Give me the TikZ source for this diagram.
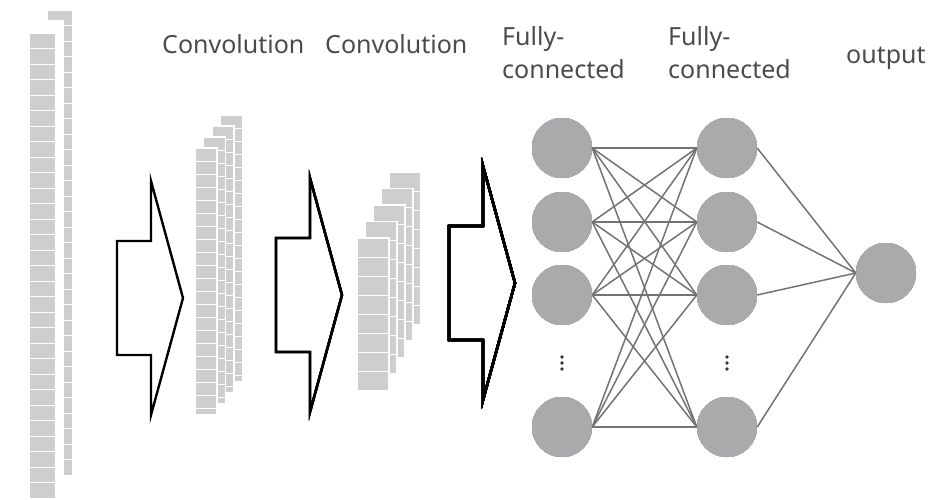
\documentclass[tikz,border=0pt]{standalone}
\usepackage{fontspec}
\setmainfont{Noto Sans}

\definecolor{platefill}{RGB}{206,206,206}
\definecolor{nodefill}{RGB}{170,169,171}
\definecolor{edgegray}{RGB}{115,115,115}
\definecolor{labelgray}{RGB}{75,75,75}

% one feature plate: x, y, width, height, row step
\newcommand{\plate}[5]{%
  \filldraw [platefill, draw=white, line width=1.5] (#1,#2) rectangle ++(#3,#4);
  \pgfmathtruncatemacro{\nrows}{#4/#5}
  \foreach \r in {1,...,\nrows}
    \draw [white, line width=1] (#1,{#2+\r*#5}) -- ++(#3,0);
}
% hollow block arrow given by its tip
\newcommand{\blockarrow}[2]{%
  \draw [line width=2.4, line join=miter] (#1,#2) -- ++(-32,-117) -- ++(0,60) -- ++(-34,0)
    -- ++(0,114) -- ++(34,0) -- ++(0,60) -- cycle;
}

\tikzset{
  neuron/.style={circle, fill=nodefill, minimum size=60, inner sep=0},
  edge/.style={line width=1.5, edgegray},
  layertext/.style={font=\fontsize{25}{33}\selectfont, text=labelgray, inner sep=0, align=left}
}

\begin{document}
\begin{tikzpicture}[x=1pt,y=-1pt]
  \useasboundingbox (0,0) rectangle (943,499);
  % input image
  \plate{47}{10}{26}{466}{15.5}
  \fill [white] (46,20) rectangle (64,477);
  \plate{29}{33}{27}{466}{15.5}
  % arrow 1
  \blockarrow{183}{298}
  % first convolution stack
  \foreach \s in {3,2,1,0}
    \plate{195+8.5*\s}{148-11*\s}{22}{267}{13}
  % arrow 2
  \blockarrow{342}{295}
  % second convolution stack
  \foreach \s in {4,3,2,1,0}
    \plate{357+8*\s}{238-16.5*\s}{32}{153}{19}
  % arrow 3
  \blockarrow{515}{283}
  % fully-connected layers
  \foreach \n/\y in {1/148,2/222,3/295,4/427} {
    \node [neuron] (a\n) at (562,\y) {};
    \node [neuron] (b\n) at (727,\y) {};
  }
  \node [neuron] (out) at (886,273) {};
  \coordinate (adots) at (562,363);
  \coordinate (bdots) at (727,363);
  \foreach \d in {-6,0,6} {
    \fill [black!80] ([yshift=\d]adots) circle (1.9);
    \fill [black!80] ([yshift=\d]bdots) circle (1.9);
  }
  \foreach \i in {1,...,4}
    \foreach \j in {1,...,4}
      \draw [edge] (a\i.east) -- (b\j.west);
  \foreach \i in {1,...,4}
    \draw [edge] (b\i.east) -- (out.west);
  % labels
  \node [layertext, anchor=base west] (conv1text) at (162,53) {Convolution};
  \node [layertext, anchor=base west] (conv2text) at (325,53) {Convolution};
  \node [layertext, anchor=base west] (fc1text) at (502,78) {Fully-\\connected};
  \node [layertext, anchor=base west] (fc2text) at (668,78) {Fully-\\connected};
  \node [layertext, anchor=base west] (outtext) at (846,63) {output};
\end{tikzpicture}
\end{document}
